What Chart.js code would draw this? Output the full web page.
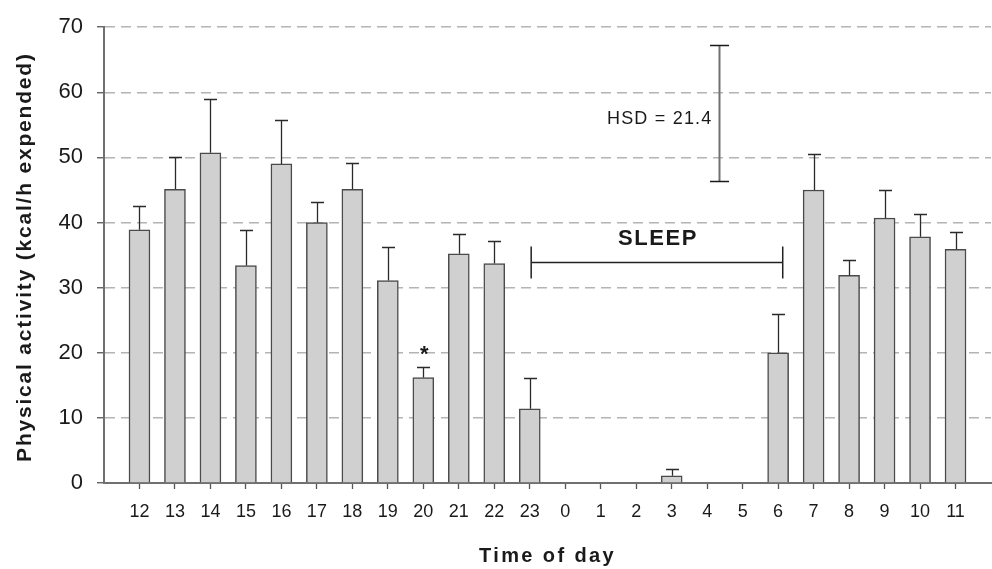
<!DOCTYPE html>
<html>
<head>
<meta charset="utf-8">
<script src="https://cdn.jsdelivr.net/npm/chart.js@4"></script>
<style>
  html, body { margin: 0; padding: 0; background: #fff; }
  #wrap { width: 992px; height: 569px; }
</style>
</head>
<body>
<div id="wrap"><canvas id="activityChart" width="992" height="569"></canvas></div>
<script>
// hours of the day, starting at noon
const hours = ['12', '13', '14', '15', '16', '17', '18', '19', '20', '21', '22', '23',
               '0', '1', '2', '3', '4', '5', '6', '7', '8', '9', '10', '11'];
// mean activity (kcal/h expended)
const activity = [38.9, 45.1, 50.7, 33.4, 49.0, 40.0, 45.1, 31.1, 16.2, 35.2, 33.7, 11.4,
                  0, 0, 0, 1.1, 0, 0, 20.0, 45.0, 31.9, 40.7, 37.8, 35.9];
// upper error (SEM)
const activityErr = [3.7, 5.0, 8.3, 5.4, 6.7, 3.2, 4.1, 5.2, 1.6, 3.0, 3.4, 4.7,
                     0, 0, 0, 1.0, 0, 0, 5.9, 5.5, 2.4, 4.3, 3.5, 2.6];
const yTicks = [0, 10, 20, 30, 40, 50, 60, 70];

// annotations (in data units)
const hsdValue = 21.4;
const hsdBar = [16.34, 46.3, 67.2];      // x index, low, high
const sleepSpan = [11.04, 18.13, 34.0];   // from index, to index, level
const starAt = [8, 20.5];

const FONT = "'Liberation Sans', Arial, Helvetica, sans-serif";

const annotate = {
  id: 'annotate',
  afterDatasetsDraw(chart) {
    const ctx = chart.ctx;
    const xs = chart.scales.x, ys = chart.scales.y;
    ctx.save();

    // error bars
    activity.forEach((v, i) => {
      const e = activityErr[i];
      if (!e) return;
      const x = Math.round(xs.getPixelForValue(i)) + 0.5;
      const y0 = ys.getPixelForValue(v);
      const y1 = Math.round(ys.getPixelForValue(v + e)) + 0.5;
      ctx.strokeStyle = '#2a2a2a';
      ctx.lineWidth = 1.3;
      ctx.beginPath();
      ctx.moveTo(x, y0); ctx.lineTo(x, y1);
      ctx.moveTo(x - 6.5, y1); ctx.lineTo(x + 6.5, y1);
      ctx.stroke();
    });

    // HSD bar
    const hx = Math.round(xs.getPixelForValue(hsdBar[0])) + 0.5;
    const hLo = ys.getPixelForValue(hsdBar[1]);
    const hHi = ys.getPixelForValue(hsdBar[2]);
    ctx.strokeStyle = '#707070';
    ctx.lineWidth = 2;
    ctx.beginPath();
    ctx.moveTo(hx, hLo); ctx.lineTo(hx, hHi);
    ctx.stroke();
    ctx.strokeStyle = '#1a1a1a';
    ctx.lineWidth = 1.5;
    ctx.beginPath();
    ctx.moveTo(hx - 9.5, hLo); ctx.lineTo(hx + 9.5, hLo);
    ctx.moveTo(hx - 9.5, hHi); ctx.lineTo(hx + 9.5, hHi);
    ctx.stroke();
    ctx.fillStyle = '#1a1a1a';
    ctx.font = '18px ' + FONT;
    ctx.letterSpacing = '1.2px';
    ctx.textAlign = 'right';
    ctx.textBaseline = 'middle';
    ctx.fillText('HSD = ' + hsdValue.toFixed(1), hx - 7, ys.getPixelForValue(55.9));

    // SLEEP bracket
    const sx0 = xs.getPixelForValue(sleepSpan[0]);
    const sx1 = xs.getPixelForValue(sleepSpan[1]);
    const sy = Math.round(ys.getPixelForValue(sleepSpan[2])) + 0.5;
    ctx.strokeStyle = '#222';
    ctx.lineWidth = 1.5;
    ctx.beginPath();
    ctx.moveTo(sx0, sy); ctx.lineTo(sx1, sy);
    ctx.moveTo(sx0, sy - 16); ctx.lineTo(sx0, sy + 16);
    ctx.moveTo(sx1, sy - 16); ctx.lineTo(sx1, sy + 16);
    ctx.stroke();
    ctx.font = 'bold 22px ' + FONT;
    ctx.letterSpacing = '1.6px';
    ctx.textAlign = 'center';
    ctx.fillText('SLEEP', (sx0 + sx1) / 2 + 1, sy - 24);

    // significance star
    ctx.font = 'bold 22px ' + FONT;
    ctx.letterSpacing = '0px';
    ctx.fillText('*', xs.getPixelForValue(starAt[0]) + 1, ys.getPixelForValue(starAt[1]) + 5);

    // axis titles
    ctx.font = 'bold 20px ' + FONT;
    ctx.letterSpacing = '2.4px';
    ctx.fillText('Time of day', (chart.chartArea.left + chart.chartArea.right) / 2, 556);
    ctx.translate(25, (chart.chartArea.top + chart.chartArea.bottom) / 2 + 2);
    ctx.rotate(-Math.PI / 2);
    ctx.font = 'bold 21px ' + FONT;
    ctx.letterSpacing = '1.8px';
    ctx.fillText('Physical activity (kcal/h expended)', 0, 0);
    ctx.restore();
  }
};

new Chart(document.getElementById('activityChart'), {
  type: 'bar',
  data: {
    datasets: [{
      data: activity.map((v, i) => ({ x: i, y: v })),
      backgroundColor: '#d0d0d0',
      borderColor: '#4a4a4a',
      borderWidth: 1.5,
      barThickness: 21
    }]
  },
  options: {
    responsive: false,
    devicePixelRatio: 1,
    animation: false,
    layout: { padding: { top: 22, right: 1, left: 0, bottom: 0 } },
    plugins: { legend: { display: false }, tooltip: { enabled: false } },
    scales: {
      x: {
        type: 'linear',
        offset: false,
        min: -1,
        max: 24,
        afterBuildTicks: (scale) => { scale.ticks = hours.map((h, i) => ({ value: i })); },
        afterFit: (scale) => { scale.height = 86; },
        ticks: {
          autoSkip: false,
          maxRotation: 0,
          padding: 12,
          color: '#1a1a1a',
          font: { family: FONT, size: 18 },
          callback: (v) => hours[v]
        },
        grid: { offset: false, drawOnChartArea: false, drawTicks: true, tickLength: 6, tickColor: '#555', tickWidth: 1.3 },
        border: { display: true, color: '#707070', width: 2 }
      },
      y: {
        min: 0,
        max: 70,
        afterBuildTicks: (scale) => { scale.ticks = yTicks.map(v => ({ value: v })); },
        afterFit: (scale) => { scale.width = 104; },
        ticks: {
          padding: 14,
          color: '#1a1a1a',
          font: { family: FONT, size: 22 }
        },
        grid: { color: '#b4b4b4', lineWidth: 1.5, drawTicks: true, tickLength: 7, tickColor: '#555', tickWidth: 1.3 },
        border: { display: true, color: '#707070', width: 2, dash: [10, 6] }
      }
    }
  },
  plugins: [annotate]
});
</script>
</body>
</html>
